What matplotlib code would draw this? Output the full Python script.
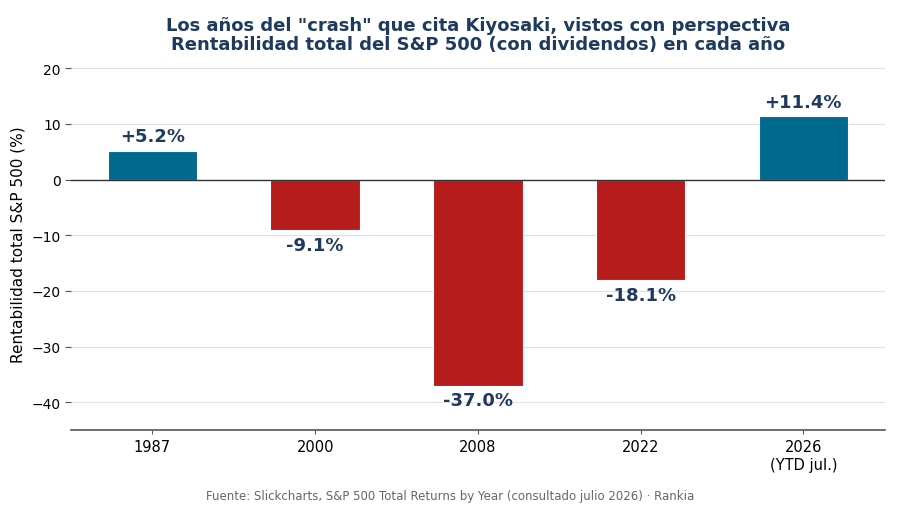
import matplotlib
matplotlib.use("Agg")
import matplotlib.pyplot as plt

categories = ["1987", "2000", "2008", "2022", "2026\n(YTD jul.)"]
returns = [5.2, -9.1, -37.0, -18.1, 11.4]
labels = ["+5.2%", "-9.1%", "-37.0%", "-18.1%", "+11.4%"]

pos_color = "#006a8e"
neg_color = "#b71c1c"
text_color = "#1f3a5f"

fig = plt.figure(figsize=(9, 5.06), dpi=100)
ax = fig.add_axes([0.079, 0.148, 0.904, 0.737])

x = list(range(len(categories)))
colors = [pos_color if v >= 0 else neg_color for v in returns]
bars = ax.bar(x, returns, width=0.55, color=colors, edgecolor="white", linewidth=0.8, zorder=3)

for xi, v, lab in zip(x, returns, labels):
    if v >= 0:
        ax.annotate(lab, (xi, v), xytext=(0, 4), textcoords="offset points",
                    ha="center", va="bottom", fontsize=13, fontweight="bold", color=text_color)
    else:
        ax.annotate(lab, (xi, v), xytext=(0, -4), textcoords="offset points",
                    ha="center", va="top", fontsize=13, fontweight="bold", color=text_color)

ax.axhline(0, color="#333333", linewidth=1.0, zorder=4)
ax.set_xlim(-0.5, 4.5)
ax.set_ylim(-45, 22)
ax.set_yticks([-40, -30, -20, -10, 0, 10, 20])
ax.set_xticks(x)
ax.set_xticklabels(categories, fontsize=10.5)
ax.tick_params(axis="y", labelsize=10, color="#555555", length=4)
ax.tick_params(axis="x", color="#555555", length=3)
ax.yaxis.grid(True, color="#e0e0e0", linewidth=0.8, zorder=0)
ax.set_axisbelow(True)
for s in ["top", "right", "left"]:
    ax.spines[s].set_visible(False)
ax.spines["bottom"].set_color("#555555")
ax.spines["bottom"].set_linewidth(1.2)

ax.set_ylabel("Rentabilidad total S&P 500 (%)", fontsize=11)
ax.set_title('Los años del "crash" que cita Kiyosaki, vistos con perspectiva\n'
             'Rentabilidad total del S&P 500 (con dividendos) en cada año',
             fontsize=13, fontweight="bold", color=text_color, pad=6, linespacing=1.05)

fig.text(0.5, 0.005, "Fuente: Slickcharts, S&P 500 Total Returns by Year (consultado julio 2026) · Rankia",
         ha="center", va="bottom", fontsize=8.5, color="#666666")

fig.savefig("out.png", dpi=100)
